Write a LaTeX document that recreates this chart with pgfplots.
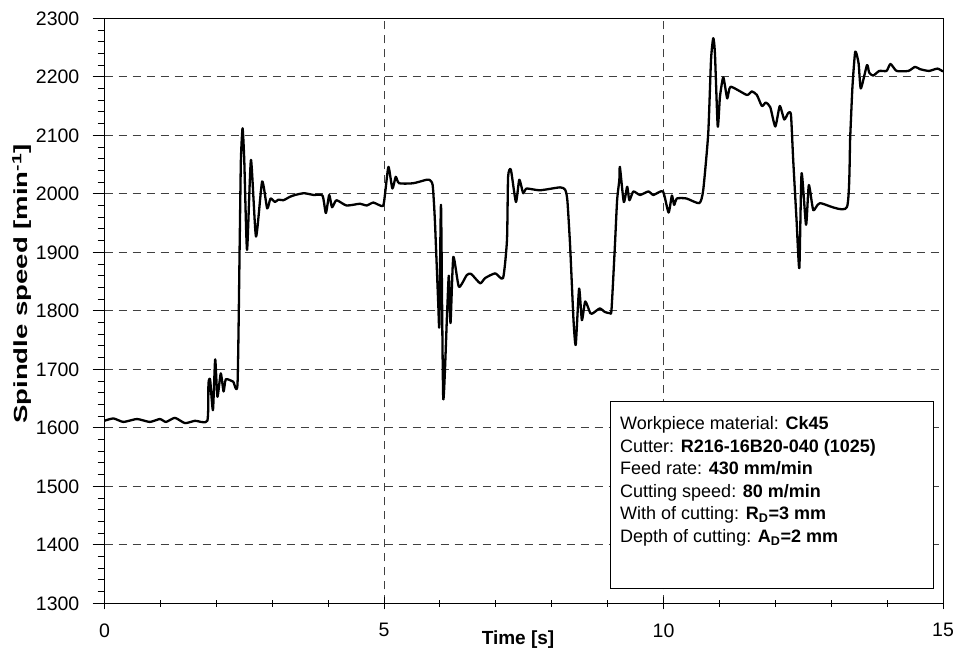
\documentclass[border=0pt]{standalone}
\usepackage{fontspec}
\setmainfont{Liberation Sans}
\usepackage{pgfplots}
\pgfplotsset{compat=1.18}
\begin{document}
\begin{tikzpicture}
\useasboundingbox (0pt,0pt) rectangle (955pt,652pt);
\begin{axis}[
  at={(104.5pt,48.7pt)}, anchor=south west,
  scale only axis, width=838.5pt, height=585pt,
  xmin=0, xmax=15, ymin=1300, ymax=2300,
  xtick={0,5,10,15}, minor x tick num=4,
  ytick distance=100, minor y tick num=4,
  axis line style={black, line width=1pt},
  xtick pos=left, ytick pos=left,
  x tick style={black, line width=0.9pt},
  y tick style={black, line width=0.9pt},
  xtick align=center, ytick align=outside,
  major tick length=12pt, minor tick length=7pt,
  grid=major,
  major grid style={black!75, line width=0.8pt, dash pattern=on 8pt off 6pt},
  /pgf/number format/.cd, set thousands separator={}, assume math mode=true,
  /pgfplots/.cd,
  ticklabel style={font=\fontsize{19.5}{22}\selectfont},
  yticklabel style={inner sep=0pt, xshift=-13pt},
  xticklabel style={inner sep=0pt, yshift=-14pt},
  clip=true,
]
\addplot[black, line width=2.3pt, line join=round, smooth, tension=0.35] coordinates {
(0,1612) (0.16,1616) (0.34,1610) (0.58,1615) (0.81,1610) (0.99,1615) (1.10,1610) (1.26,1617) (1.44,1608) (1.62,1612) (1.84,1612)
(1.86,1676) (1.89,1682) (1.94,1630) (1.98,1717) (2.02,1653) (2.08,1693) (2.13,1662) (2.17,1683) (2.30,1679) (2.38,1676)
(2.42,1927) (2.44,2058) (2.47,2112) (2.50,2058) (2.55,1904) (2.62,2058) (2.71,1927) (2.82,2021) (2.91,1975) (2.97,1992)
(3.05,1986) (3.11,1990) (3.20,1989) (3.32,1995) (3.41,1998) (3.57,2001) (3.74,1998) (3.90,1997) (3.96,1967) (4.02,1998)
(4.07,1977) (4.15,1989) (4.33,1980) (4.57,1983) (4.69,1980) (4.81,1985) (4.98,1979) (5.02,2001) (5.08,2046) (5.15,2009)
(5.21,2029) (5.27,2018) (5.52,2018) (5.76,2024) (5.81,2024) (5.87,2015) (5.91,1955) (5.97,1813) (5.99,1775) (6.02,1981)
(6.06,1650) (6.13,1800) (6.16,1860) (6.19,1779) (6.24,1892) (6.34,1841) (6.48,1861) (6.56,1863) (6.72,1847) (6.81,1856)
(6.99,1864) (7.13,1856) (7.20,1921) (7.22,2029) (7.27,2041) (7.36,1986) (7.42,2024) (7.49,2001) (7.55,2009) (7.79,2006)
(8.15,2011) (8.24,2007) (8.28,1989) (8.33,1910) (8.39,1784) (8.43,1742) (8.49,1838) (8.54,1784) (8.60,1816) (8.69,1796)
(8.74,1796) (8.86,1804) (8.95,1798) (9.04,1796) (9.07,1802) (9.13,1910) (9.17,1989) (9.21,2024) (9.22,2046) (9.29,1986)
(9.35,2012) (9.39,1989) (9.46,2004) (9.58,1998) (9.73,2004) (9.82,1998) (9.99,2004) (10.09,1968) (10.15,1997) (10.19,1981)
(10.24,1992) (10.41,1992) (10.64,1984) (10.71,2006) (10.80,2103) (10.85,2229) (10.89,2266) (10.92,2240) (10.97,2115)
(11.01,2166) (11.07,2199) (11.14,2163) (11.20,2183) (11.49,2169) (11.58,2175) (11.67,2169) (11.76,2150) (11.83,2156)
(11.91,2148) (12.00,2115) (12.08,2150) (12.16,2127) (12.23,2138) (12.28,2135) (12.32,2058) (12.38,1955) (12.43,1873)
(12.47,2035) (12.55,1947) (12.60,2015) (12.68,1972) (12.80,1984) (13.28,1977) (13.34,2098) (13.38,2183) (13.43,2243)
(13.49,2223) (13.53,2180) (13.64,2220) (13.68,2207) (13.75,2202) (13.86,2210) (13.99,2210) (14.06,2222) (14.17,2210)
(14.38,2210) (14.50,2217) (14.59,2213) (14.75,2210) (14.90,2214) (15.00,2209)
};
\end{axis}
% info box
\draw[black, line width=1pt, fill=white] (610pt,63.7pt) rectangle (933pt,250.3pt);
\begin{scope}[every node/.style={anchor=base west, inner sep=0pt, font=\fontsize{18}{22}\selectfont}]
\node at (620pt,222pt) {Workpiece material: \textbf{Ck45}};
\node at (620pt,199.5pt) {Cutter: \textbf{R216-16B20-040 (1025)}};
\node at (620pt,177pt) {Feed rate: \textbf{430 mm/min}};
\node at (620pt,154.5pt) {Cutting speed: \textbf{80 m/min}};
\node at (620pt,132pt) {With of cutting: \textbf{R\textsubscript{D}=3 mm}};
\node at (620pt,109pt) {Depth of cutting: \textbf{A\textsubscript{D}=2 mm}};
\end{scope}
% axis titles
\node[rotate=90, xscale=1.45, font=\fontsize{19}{22}\bfseries, inner sep=0pt] at (22pt,368pt) {Spindle speed [min\textsuperscript{-1}]};
\node[font=\fontsize{19}{22}\bfseries, inner sep=0pt] at (518pt,12pt) {Time [s]};
\end{tikzpicture}
\end{document}
